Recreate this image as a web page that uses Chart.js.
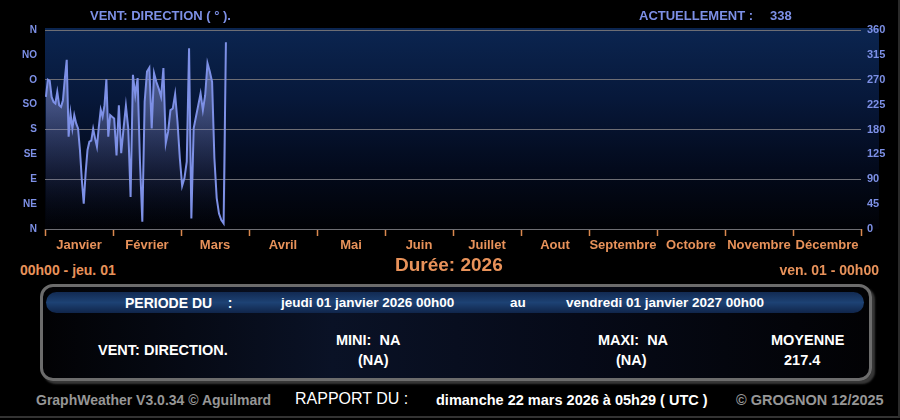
<!DOCTYPE html>
<html lang="fr">
<head>
<meta charset="utf-8">
<title>Vent : direction 2026</title>
<script src="https://cdn.jsdelivr.net/npm/chart.js@4/dist/chart.umd.min.js"></script>
<style>
  html, body { margin: 0; padding: 0; background: #000; }
  body { width: 900px; height: 420px; position: relative; overflow: hidden;
         font-family: "Liberation Sans", Arial, sans-serif; }
  #cadre { position: absolute; left: 0; top: 0; width: 898px; height: 416px;
           border-right: 2px solid #2a2a2a; border-bottom: 2px solid #333; }
  #graphe { position: absolute; left: 0; top: 0; }
  .t { position: absolute; white-space: pre; font-weight: bold; line-height: 1; }
  .bleu { color: #7d90e6; }
  .orange { color: #e8925a; }
  .blanc { color: #fff; }
  .gris { color: #969696; }
  #panneau { position: absolute; left: 40px; top: 284px; width: 826px; height: 91px;
             border: 3px solid #6c6c6c; border-radius: 13px;
             background: linear-gradient(to right, #020204, #0a1226 35%, #060a18 65%, #020204);
             box-shadow: 3px 3px 2px rgba(80,80,80,0.7); }
  #bandeau { position: absolute; left: 46px; top: 292px; width: 818px; height: 21px;
             border-radius: 11px;
             background: linear-gradient(to bottom, #122a52, #1d4274 50%, #10254a); }
</style>
</head>
<body>
<div id="cadre"></div>
<canvas id="graphe" width="900" height="262"></canvas>

<div class="t bleu" style="left:90px; top:9px; font-size:13px;">VENT: DIRECTION ( ° ).</div>
<div class="t bleu" style="left:639px; top:9px; font-size:13px;">ACTUELLEMENT :</div>
<div class="t bleu" id="actuel" style="left:770px; top:9px; font-size:13px;"></div>

<div class="t orange" style="left:20px; top:263px; font-size:14px;">00h00 - jeu. 01</div>
<div class="t orange" style="left:395px; top:255px; font-size:19px;">Durée: 2026</div>
<div class="t orange" style="right:21px; top:263px; font-size:14px;">ven. 01 - 00h00</div>

<div id="panneau"></div>
<div id="bandeau"></div>
<div class="t blanc" style="left:125px; top:296px; font-size:14px;">PERIODE DU    :</div>
<div class="t blanc" style="left:281px; top:296px; font-size:13.5px;">jeudi 01 janvier 2026 00h00</div>
<div class="t blanc" style="left:510px; top:296px; font-size:13.5px;">au</div>
<div class="t blanc" style="left:566px; top:296px; font-size:13.5px;">vendredi 01 janvier 2027 00h00</div>

<div class="t blanc" style="left:98px; top:343px; font-size:14.5px;">VENT: DIRECTION.</div>
<div class="t blanc" style="left:336px; top:333px; font-size:14.5px;">MINI:  NA</div>
<div class="t blanc" style="left:358px; top:353px; font-size:14.5px;">(NA)</div>
<div class="t blanc" style="left:598px; top:333px; font-size:14.5px;">MAXI:  NA</div>
<div class="t blanc" style="left:616px; top:353px; font-size:14.5px;">(NA)</div>
<div class="t blanc" style="left:771px; top:333px; font-size:14.5px;">MOYENNE</div>
<div class="t blanc" id="moyenne" style="left:784px; top:353px; font-size:14.5px;"></div>

<div class="t gris" style="left:36px; top:393px; font-size:14px;">GraphWeather V3.0.34 © Aguilmard</div>
<div class="t blanc" style="left:295px; top:391px; font-size:16px; font-weight:normal;">RAPPORT DU :</div>
<div class="t blanc" style="left:436px; top:393px; font-size:14.5px;">dimanche 22 mars 2026 à 05h29 ( UTC )</div>
<div class="t gris" style="left:736px; top:393px; font-size:14.5px;">© GROGNON 12/2025</div>

<script>
// Mois de l'année (axe horizontal, un intervalle égal par mois)
const mois = ['Janvier', 'Février', 'Mars', 'Avril', 'Mai', 'Juin', 'Juillet',
              'Aout', 'Septembre', 'Octobre', 'Novembre', 'Décembre'];
// Graduations de l'axe vertical, de 0 à 360 par pas de 45
const pointsCardinaux = ['N', 'NE', 'E', 'SE', 'S', 'SO', 'O', 'NO', 'N'];
const graduationsDegres = ['0', '45', '90', '125', '180', '225', '270', '315', '360'];

// Relevés de direction du vent (degrés), par mois
const janvier = [239, 270, 268, 239, 230, 227, 248, 224, 221, 233, 272, 306,
                 167, 209, 182, 206, 191, 182, 143, 89, 46, 101, 143, 158,
                 160, 181, 164, 149, 185, 216, 203, 224, 271, 167, 206, 203];
const fevrier = [200, 133, 224, 137, 182, 223, 182, 58, 279, 242, 273, 122,
                 13, 230, 285, 292, 182, 282, 266, 254, 239, 291, 155, 176,
                 215, 218, 244, 194, 128];
const mars    = [78, 92, 122, 327, 19, 182, 203, 224, 245, 215, 242, 300,
                 285, 266, 128, 56, 28, 16, 10, 338];
// Nombre de jours couverts par les relevés de chaque mois, et longueur des mois
const joursCouverts = [31, 28, 21];
const joursDuMois = [31, 28, 31];

const valeurActuelle = 338;
const moyenne = 217.4;

document.getElementById('actuel').textContent = String(valeurActuelle);
document.getElementById('moyenne').textContent = moyenne.toFixed(1);

// Chaque relevé est placé dans la bande de son mois (1 unité = 1 mois)
const releves = [janvier, fevrier, mars];
const points = [];
releves.forEach((serie, m) => {
  const part = joursCouverts[m] / joursDuMois[m];
  serie.forEach((v, i) => {
    points.push({ x: m + ((i + 0.5) / serie.length) * part, y: v });
  });
});

const BLEU = '#7d90e6';
const ORANGE = '#d9884f';

const fondGraphe = {
  id: 'fondGraphe',
  beforeDraw(chart) {
    const { ctx, chartArea: a } = chart;
    const g = ctx.createLinearGradient(0, a.top - 2, 0, a.bottom);
    g.addColorStop(0, '#0b2550');
    g.addColorStop(0.35, '#07183a');
    g.addColorStop(0.7, '#030a1c');
    g.addColorStop(1, '#010206');
    ctx.save();
    ctx.fillStyle = g;
    ctx.fillRect(a.left, a.top - 2, a.right - a.left + 18, a.bottom - a.top + 2);
    ctx.restore();
  }
};

function remplissage(context) {
  const a = context.chart.chartArea;
  if (!a) return 'rgba(0,0,0,0)';
  const g = context.chart.ctx.createLinearGradient(0, a.top, 0, a.bottom);
  g.addColorStop(0, 'rgba(170,182,240,0.60)');
  g.addColorStop(0.4, 'rgba(140,152,220,0.42)');
  g.addColorStop(0.75, 'rgba(100,112,180,0.14)');
  g.addColorStop(1, 'rgba(20,30,60,0)');
  return g;
}

new Chart(document.getElementById('graphe'), {
  type: 'line',
  data: {
    labels: mois,
    datasets: [{
      label: 'Direction',
      data: points,
      xAxisID: 'x',
      yAxisID: 'y',
      borderColor: BLEU,
      borderWidth: 2,
      pointRadius: 0,
      tension: 0,
      fill: 'origin',
      backgroundColor: remplissage
    }]
  },
  plugins: [fondGraphe],
  options: {
    responsive: false,
    animation: false,
    layout: { padding: { top: 30, left: 0, right: 0, bottom: 0 } },
    plugins: { legend: { display: false }, tooltip: { enabled: false } },
    scales: {
      x: {
        type: 'linear', min: 0, max: 12, display: false
      },
      mois: {
        type: 'category', position: 'bottom', labels: mois, offset: true,
        afterFit(s) { s.height = 33; },
        border: { display: false },
        grid: {
          offset: true, drawOnChartArea: false, drawTicks: true,
          tickLength: 7, tickColor: ORANGE, tickWidth: 1.5, color: ORANGE
        },
        ticks: {
          color: '#e8925a', padding: 2, maxRotation: 0, autoSkip: false,
          font: { family: '"Liberation Sans", Arial, sans-serif', size: 13, weight: 'bold' }
        }
      },
      y: {
        type: 'linear', position: 'left', min: 0, max: 360,
        afterFit(s) { s.width = 45; },
        border: { display: false },
        grid: {
          drawTicks: false,
          color: (c) => (c.tick && c.tick.value % 90 === 0) ? '#6e6e74' : 'rgba(0,0,0,0)',
          lineWidth: 1
        },
        ticks: {
          stepSize: 45, padding: 8, color: BLEU,
          callback: (v, i) => pointsCardinaux[i],
          font: { family: '"Liberation Sans", Arial, sans-serif', size: 10, weight: 'bold' }
        }
      },
      y2: {
        type: 'linear', position: 'right', min: 0, max: 360,
        afterFit(s) { s.width = 39; },
        border: { display: false },
        grid: { display: false, drawTicks: false },
        ticks: {
          stepSize: 45, padding: 6, color: BLEU,
          callback: (v, i) => graduationsDegres[i],
          font: { family: '"Liberation Sans", Arial, sans-serif', size: 11, weight: 'bold' }
        }
      }
    }
  }
});
</script>
</body>
</html>
